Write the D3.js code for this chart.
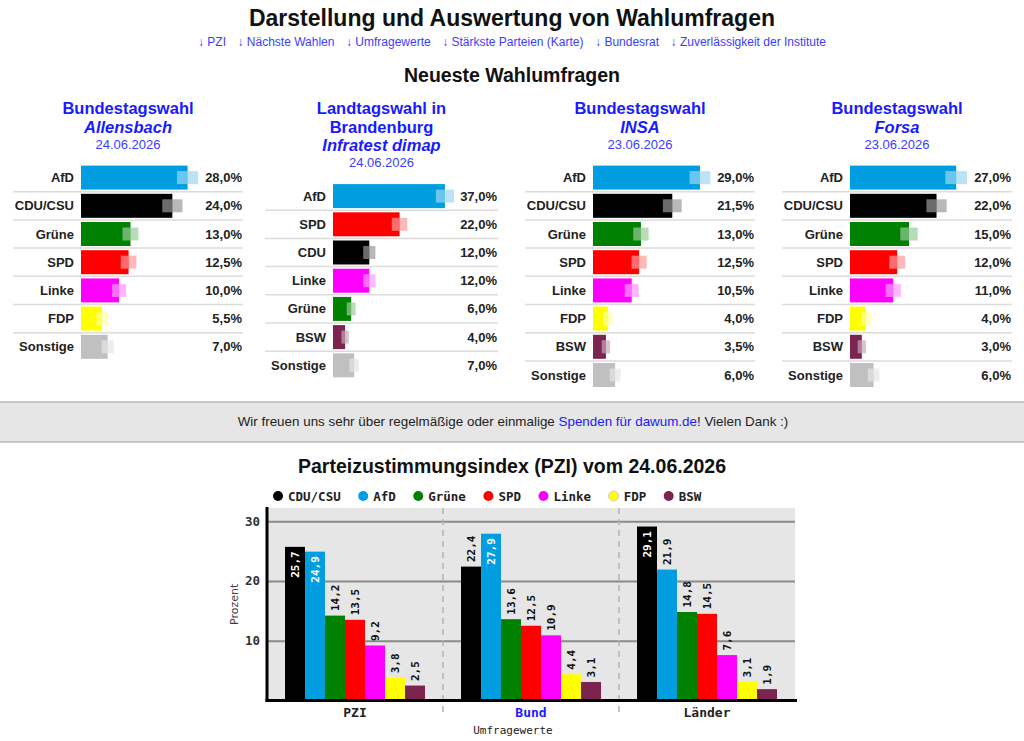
<!DOCTYPE html>
<html>
<head>
<meta charset="utf-8">
<script src="https://cdn.jsdelivr.net/npm/d3@7"></script>
<style>
  body { margin: 0; background: #fff; }
  svg { display: block; }
</style>
</head>
<body>
<script>
// --- data ---
var navLinks = ["↓ PZI", "↓ Nächste Wahlen", "↓ Umfragewerte", "↓ Stärkste Parteien (Karte)", "↓ Bundesrat", "↓ Zuverlässigkeit der Institute"]

var pollElections = [["Bundestagswahl"], ["Landtagswahl in", "Brandenburg"], ["Bundestagswahl"], ["Bundestagswahl"]]
var pollInstitutes = ["Allensbach", "Infratest dimap", "INSA", "Forsa"]
var pollDates = ["24.06.2026", "24.06.2026", "23.06.2026", "23.06.2026"]
var pollParties = [
    ["AfD", "CDU/CSU", "Grüne", "SPD", "Linke", "FDP", "Sonstige"],
    ["AfD", "SPD", "CDU", "Linke", "Grüne", "BSW", "Sonstige"],
    ["AfD", "CDU/CSU", "Grüne", "SPD", "Linke", "FDP", "BSW", "Sonstige"],
    ["AfD", "CDU/CSU", "Grüne", "SPD", "Linke", "FDP", "BSW", "Sonstige"]
]
var pollValues = [
    [28.0, 24.0, 13.0, 12.5, 10.0, 5.5, 7.0],
    [37.0, 22.0, 12.0, 12.0, 6.0, 4.0, 7.0],
    [29.0, 21.5, 13.0, 12.5, 10.5, 4.0, 3.5, 6.0],
    [27.0, 22.0, 15.0, 12.0, 11.0, 4.0, 3.0, 6.0]
]

var pziParties = ["CDU/CSU", "AfD", "Grüne", "SPD", "Linke", "FDP", "BSW"]
var pziGroups = ["PZI", "Bund", "Länder"]
var pziValues = [
    [25.7, 24.9, 14.2, 13.5, 9.2, 3.8, 2.5],
    [22.4, 27.9, 13.6, 12.5, 10.9, 4.4, 3.1],
    [29.1, 21.9, 14.8, 14.5, 7.6, 3.1, 1.9]
]
var pziTicks = [10, 20, 30]

var partyColors = {
    "AfD": "#009ee0", "CDU/CSU": "#000000", "CDU": "#000000", "Grüne": "#008000",
    "SPD": "#ff0000", "Linke": "#ff00ff", "FDP": "#ffff00", "BSW": "#7b2450", "Sonstige": "#c0c0c0"
}

// --- setup ---
const sans = "'Liberation Sans', Arial, sans-serif"
const mono = "'DejaVu Sans Mono', monospace"
const linkBlue = "#1a1aff"

var svg = d3.select("body").append("svg")
    .attr("width", 1024)
    .attr("height", 741)
    .style("font-family", sans)

// header
svg.append("text")
    .attr("x", 512).attr("y", 26)
    .attr("text-anchor", "middle")
    .style("font-size", "23px").style("font-weight", "bold").style("fill", "#111")
    .text("Darstellung und Auswertung von Wahlumfragen")

const nav = svg.append("g")
let navX = 0
navLinks.forEach(l => {
    const t = nav.append("text")
        .attr("x", navX).attr("y", 46)
        .style("font-size", "12px").style("fill", "#3c3cff")
        .text(l)
    navX += t.node().getComputedTextLength() + 11.5
})
nav.attr("transform", `translate(${512 - (navX - 11.5) / 2},0)`)

svg.append("text")
    .attr("x", 512).attr("y", 82)
    .attr("text-anchor", "middle")
    .style("font-size", "19.5px").style("font-weight", "bold").style("fill", "#111")
    .text("Neueste Wahlumfragen")

// --- poll panels ---
const panelX = [13, 265, 525, 782]
const panelW = [230, 233, 230, 230]
const rowH = 28.2

function marginOf(v) {
    // 95% sampling margin for ~1000 respondents
    const p = v / 100
    return 196 * Math.sqrt(p * (1 - p) / 1000)
}

pollElections.forEach((lines, i) => {
    const g = svg.append("g").attr("transform", `translate(${panelX[i]},0)`)
    const w = panelW[i]
    const cx = w / 2
    let y = 114
    lines.forEach(l => {
        g.append("text").attr("x", cx).attr("y", y)
            .attr("text-anchor", "middle")
            .style("font-size", "16.5px").style("font-weight", "bold").style("fill", linkBlue)
            .text(l)
        y += 18.5
    })
    g.append("text").attr("x", cx).attr("y", y)
        .attr("text-anchor", "middle")
        .style("font-size", "16.5px").style("font-weight", "bold").style("font-style", "italic").style("fill", linkBlue)
        .text(pollInstitutes[i])
    y += 16
    g.append("text").attr("x", cx).attr("y", y)
        .attr("text-anchor", "middle")
        .style("font-size", "13px").style("fill", "#3c3cff")
        .text(pollDates[i])

    const parties = pollParties[i]
    const vals = pollValues[i]
    const top = y + 15
    const yRow = d3.scaleBand().domain(parties).range([top, top + parties.length * rowH])
    const x = d3.scaleLinear().domain([0, d3.max(vals) + 3]).range([0, w - 112])
    const bx = 68

    const rows = g.selectAll("g.row")
        .data(parties.map((p, j) => ({ party: p, value: vals[j] })))
        .enter().append("g")
        .attr("transform", d => `translate(0,${yRow(d.party) + rowH / 2})`)

    rows.filter((d, j) => j < parties.length - 1)
        .append("line")
        .attr("x1", 0).attr("x2", w)
        .attr("y1", rowH / 2).attr("y2", rowH / 2)
        .style("stroke", "#dcdcdc").style("stroke-width", 1.5)

    rows.append("rect")
        .attr("x", bx).attr("y", -12)
        .attr("width", d => x(d.value)).attr("height", 24)
        .style("fill", d => partyColors[d.party])

    rows.append("rect")
        .attr("x", d => bx + x(d.value) - x(marginOf(d.value)))
        .attr("y", -6.5)
        .attr("width", d => x(marginOf(d.value))).attr("height", 13)
        .style("fill", "#fff").style("opacity", 0.42)

    rows.append("rect")
        .attr("x", d => bx + x(d.value))
        .attr("y", -6.5)
        .attr("width", d => x(marginOf(d.value))).attr("height", 13)
        .style("fill", d => partyColors[d.party]).style("opacity", 0.28)

    rows.append("text")
        .attr("x", 61).attr("y", 4.5)
        .attr("text-anchor", "end")
        .style("font-size", "13px").style("font-weight", "bold").style("fill", "#222")
        .text(d => d.party)

    rows.append("text")
        .attr("x", w - 1).attr("y", 4.5)
        .attr("text-anchor", "end")
        .style("font-size", "13px").style("font-weight", "bold").style("fill", "#222")
        .text(d => d.value.toFixed(1).replace(".", ",") + "%")
})

// --- donation band ---
svg.append("rect")
    .attr("x", -2).attr("y", 402).attr("width", 1028).attr("height", 40)
    .style("fill", "#e6e6e6").style("stroke", "#bbb").style("stroke-width", 1.5)

const don = svg.append("text")
    .attr("x", 513).attr("y", 426)
    .attr("text-anchor", "middle")
    .style("font-size", "13.4px").style("fill", "#222")
don.append("tspan").text("Wir freuen uns sehr über regelmäßige oder einmalige ")
don.append("tspan").style("fill", linkBlue).text("Spenden für dawum.de")
don.append("tspan").text("! Vielen Dank :)")

// --- PZI chart ---
svg.append("text")
    .attr("x", 512).attr("y", 473)
    .attr("text-anchor", "middle")
    .style("font-size", "19.5px").style("font-weight", "bold").style("fill", "#111")
    .text("Parteizustimmungsindex (PZI) vom 24.06.2026")

const plot = { left: 267, right: 795, top: 508, bottom: 700.5 }

const xGroup = d3.scaleBand().domain(pziGroups).range([plot.left, plot.right])
const xParty = d3.scaleBand().domain(pziParties).range([18, xGroup.bandwidth() - 18])
const yPzi = d3.scaleLinear().domain([0, 32.2]).range([plot.bottom, plot.top])

// legend
const legend = svg.append("g").attr("transform", "translate(278,496)")
let lx = 0
pziParties.forEach(p => {
    legend.append("circle").attr("cx", lx).attr("cy", 0).attr("r", 5)
        .style("fill", partyColors[p])
        .style("stroke", p == "FDP" ? "#ccc" : "none")
    const t = legend.append("text").attr("x", lx + 10).attr("y", 4.5)
        .style("font-family", mono).style("font-size", "12.5px").style("font-weight", "bold").style("fill", "#222")
        .text(p)
    lx += 10 + t.node().getComputedTextLength() + 22.5
})

svg.append("rect")
    .attr("x", plot.left).attr("y", plot.top)
    .attr("width", plot.right - plot.left).attr("height", plot.bottom - plot.top)
    .style("fill", "#e6e6e6")

// y axis with grid
const yAxis = svg.append("g")
    .attr("transform", `translate(${plot.left},0)`)
    .call(d3.axisLeft(yPzi).tickValues(pziTicks).tickSize(-(plot.right - plot.left)).tickPadding(7).tickFormat(d3.format("d")))
yAxis.select(".domain").remove()
yAxis.selectAll(".tick line").style("stroke", "#8a8a8a").style("stroke-width", 2)
yAxis.selectAll(".tick text")
    .style("font-family", mono).style("font-size", "12.5px").style("font-weight", "bold").style("fill", "#333")

// separators between groups
svg.selectAll("line.sep")
    .data(pziGroups.slice(1))
    .enter().append("line")
    .attr("x1", d => xGroup(d)).attr("x2", d => xGroup(d))
    .attr("y1", plot.top).attr("y2", 717)
    .style("stroke", "#b4b4b4").style("stroke-width", 1.5).style("stroke-dasharray", "6,5")

// bars
const groups = svg.selectAll("g.grp")
    .data(pziGroups.map((gname, i) => ({ name: gname, values: pziValues[i] })))
    .enter().append("g")
    .attr("transform", d => `translate(${xGroup(d.name)},0)`)

const bars = groups.selectAll("g.bar")
    .data(d => d.values.map((v, j) => ({ party: pziParties[j], value: v })))
    .enter().append("g")

bars.append("rect")
    .attr("x", d => xParty(d.party))
    .attr("y", d => yPzi(d.value))
    .attr("width", xParty.bandwidth())
    .attr("height", d => plot.bottom - yPzi(d.value))
    .style("fill", d => partyColors[d.party])

bars.append("text")
    .attr("transform", d => {
        const inside = d.value > 24
        const ty = inside ? yPzi(d.value) + 4.5 : yPzi(d.value) - 4.5
        return `translate(${xParty(d.party) + xParty.bandwidth() / 2 + 4},${ty}) rotate(-90)`
    })
    .attr("text-anchor", d => d.value > 24 ? "end" : "start")
    .style("font-family", mono).style("font-size", "11px").style("font-weight", "bold")
    .style("fill", d => d.value > 24 ? "#fff" : "#111")
    .text(d => d.value.toFixed(1).replace(".", ","))

// axes lines
svg.append("line")
    .attr("x1", plot.left).attr("x2", plot.left)
    .attr("y1", plot.top - 1).attr("y2", plot.bottom + 1.5)
    .style("stroke", "#000").style("stroke-width", 3)

const xAxis = svg.append("g")
    .attr("transform", `translate(0,${plot.bottom})`)
    .call(d3.axisBottom(xGroup).tickSize(0).tickPadding(7))
xAxis.select(".domain").remove()
xAxis.selectAll(".tick text")
    .style("font-family", mono).style("font-size", "13px").style("font-weight", "bold")
    .style("fill", d => d == "Bund" ? linkBlue : "#222")

svg.append("line")
    .attr("x1", plot.left - 1.5).attr("x2", plot.right + 2)
    .attr("y1", plot.bottom).attr("y2", plot.bottom)
    .style("stroke", "#000").style("stroke-width", 3)

svg.append("text")
    .attr("x", 513).attr("y", 734)
    .attr("text-anchor", "middle")
    .style("font-family", mono).style("font-size", "11px").style("fill", "#222")
    .text("Umfragewerte")

svg.append("text")
    .attr("transform", `translate(238,${(plot.top + plot.bottom) / 2}) rotate(-90)`)
    .attr("text-anchor", "middle")
    .style("font-family", "'DejaVu Sans', sans-serif").style("font-size", "11px").style("fill", "#4a3a3a")
    .text("Prozent")
</script>
</body>
</html>
